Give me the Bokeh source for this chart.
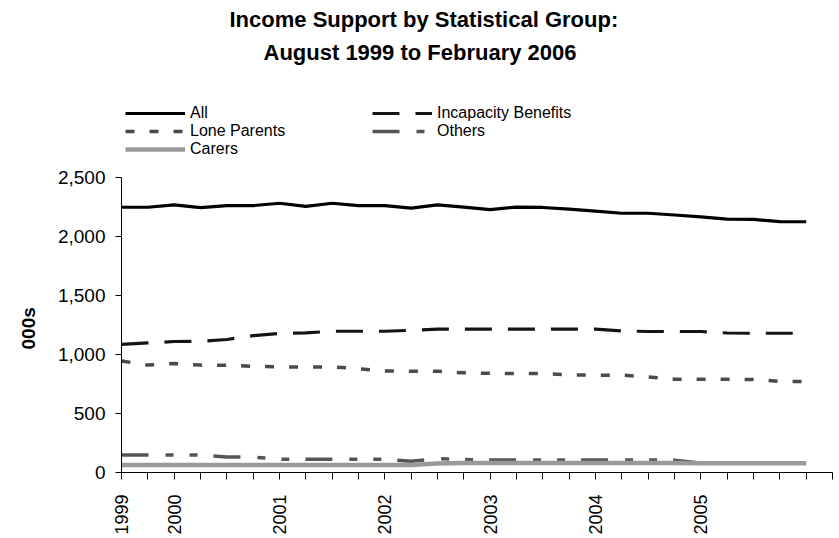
import math
from bokeh.plotting import figure
from bokeh.models import (Range1d, FixedTicker, NumeralTickFormatter, Legend, LegendItem, Title)
from bokeh.embed import file_html
from bokeh.resources import INLINE

# ---- data (thousands), quarterly Aug 1999 - Feb 2006 ----
quarters = ["Aug 1999", "Nov 1999",
            "Feb 2000", "May 2000", "Aug 2000", "Nov 2000",
            "Feb 2001", "May 2001", "Aug 2001", "Nov 2001",
            "Feb 2002", "May 2002", "Aug 2002", "Nov 2002",
            "Feb 2003", "May 2003", "Aug 2003", "Nov 2003",
            "Feb 2004", "May 2004", "Aug 2004", "Nov 2004",
            "Feb 2005", "May 2005", "Aug 2005", "Nov 2005",
            "Feb 2006"]
all_claimants = [2248, 2248, 2268, 2244, 2262, 2262, 2282, 2256, 2282, 2262,
                 2262, 2241, 2268, 2249, 2228, 2249, 2246, 2232, 2215, 2197,
                 2197, 2182, 2166, 2147, 2145, 2126, 2125]
incapacity = [1085, 1098, 1110, 1112, 1127, 1160, 1178, 1183, 1197, 1197,
              1197, 1205, 1215, 1215, 1215, 1215, 1215, 1215, 1215, 1200,
              1195, 1195, 1195, 1182, 1180, 1180, 1180]
lone_parents = [945, 910, 924, 910, 909, 900, 895, 895, 895, 880,
                860, 858, 858, 845, 840, 840, 840, 826, 825, 825,
                810, 790, 790, 790, 788, 772, 772]
others = [148, 148, 148, 148, 131, 131, 113, 113, 113, 113,
          113, 95, 118, 110, 106, 106, 106, 106, 106, 106,
          106, 104, 80, 78, 78, 78, 78]
carers = [63, 63, 63, 63, 63, 63, 63, 63, 63, 63,
          63, 63, 76, 80, 80, 80, 80, 80, 80, 80,
          80, 80, 78, 78, 78, 78, 78]
y_ticks = [0, 500, 1000, 1500, 2000, 2500]

x = list(range(len(quarters)))
tick_positions = list(range(len(quarters) + 1))
tick_labels = {}
for i in tick_positions:
    lab = ""
    if i < len(quarters) - 1:
        if i == 0 or quarters[i].startswith("Feb"):
            lab = quarters[i].split()[1]
    tick_labels[i] = lab

FONT = "Liberation Sans"

# frame extends above the 2,500 line to leave room for the legend
W, H = 836, 538
TOP, BOTTOM, LEFT, RIGHT = 67, 66, 119, 4
axis_px = 295  # pixel span of 0..2500
y_top = y_ticks[-1] * (H - TOP - BOTTOM) / axis_px

p = figure(width=W, height=H, output_backend="svg", toolbar_location=None,
           x_range=Range1d(0, len(quarters)), y_range=Range1d(0, y_top),
           min_border_left=LEFT, min_border_right=RIGHT, min_border_bottom=BOTTOM,
           min_border_top=TOP)
p.title.text = ""
p.outline_line_color = None
p.xgrid.grid_line_color = None
p.ygrid.grid_line_color = None
p.background_fill_color = "white"
p.border_fill_color = "white"

# axes
p.xaxis.ticker = FixedTicker(ticks=tick_positions)
p.xaxis.major_label_overrides = tick_labels
p.xaxis.major_label_orientation = math.pi / 2
p.xaxis.major_label_text_font = FONT
p.xaxis.major_label_text_font_size = "18px"
p.xaxis.major_label_text_color = "black"
p.xaxis.major_tick_in = 0
p.xaxis.major_tick_out = 7
p.xaxis.minor_tick_line_color = None
p.xaxis.axis_line_color = "black"
p.xaxis.major_tick_line_color = "black"
p.xaxis.major_label_standoff = 15

p.yaxis.ticker = FixedTicker(ticks=y_ticks)
p.yaxis.bounds = (y_ticks[0], y_ticks[-1])
p.yaxis.formatter = NumeralTickFormatter(format="0,0")
p.yaxis.major_label_text_font = FONT
p.yaxis.major_label_text_font_size = "19px"
p.yaxis.major_label_text_color = "black"
p.yaxis.major_tick_in = 0
p.yaxis.major_tick_out = 6
p.yaxis.minor_tick_line_color = None
p.yaxis.axis_line_color = "black"
p.yaxis.major_tick_line_color = "black"
p.yaxis.major_label_standoff = 10

ylab = Title(text="000s", align="left", offset=123,
             text_font=FONT, text_font_size="19px", text_font_style="bold",
             text_color="black", standoff=31)
p.add_layout(ylab, "left")

# lines
r_all = p.line(x, all_claimants, line_color="black", line_width=3.2)
r_inc = p.line(x, incapacity, line_color="#141414", line_width=3.2, line_dash="27 16")
r_lone = p.line(x, lone_parents, line_color="#4a4a4a", line_width=3.5, line_dash="9 15")
r_oth = p.line(x, others, line_color="#555555", line_width=3.5, line_dash="27 17 8 16 8 16")
r_car = p.line(x, carers, line_color="#9a9a9a", line_width=4.5)

legend = Legend(items=[
    LegendItem(label="All", renderers=[r_all]),
    LegendItem(label="Lone Parents", renderers=[r_lone]),
    LegendItem(label="Carers", renderers=[r_car]),
    LegendItem(label="Incapacity Benefits", renderers=[r_inc]),
    LegendItem(label="Others", renderers=[r_oth]),
], orientation="vertical", nrows=3, location=(4, 314),
    glyph_width=60, glyph_height=16, label_height=16, label_standoff=5,
    label_width=182, spacing=-1, padding=0, margin=0,
    label_text_font=FONT, label_text_font_size="16px",
    label_text_color="black", border_line_color=None,
    background_fill_alpha=0)
p.add_layout(legend, "center")

t2 = Title(text="August 1999 to February 2006", align="left", offset=142,
           text_font=FONT, text_font_size="22px", text_font_style="bold",
           text_color="black", standoff=6)
t1 = Title(text="Income Support by Statistical Group:", align="left", offset=108,
           text_font=FONT, text_font_size="22px", text_font_style="bold",
           text_color="black", standoff=6)
p.add_layout(t2, "above")
p.add_layout(t1, "above")

open("out.html", "w").write(file_html(p, INLINE))
